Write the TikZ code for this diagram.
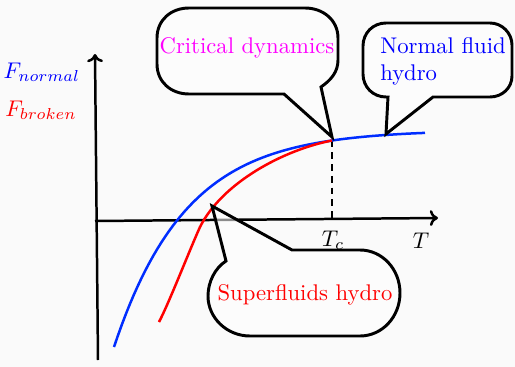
\documentclass[tikz,border=0pt]{standalone}
\usepackage{amsmath}
\usetikzlibrary{calc, positioning}
\usetikzlibrary{arrows.meta}

\definecolor{bgcol}{RGB}{250,250,250}
\definecolor{normcol}{RGB}{0,45,255}
\definecolor{critcol}{RGB}{255,0,255}

\begin{document}
\begin{tikzpicture}[x=0.0155cm, y=-0.0155cm,
  axis/.style={line width=1.1pt, -{To[length=3.6pt, width=7pt]}},
  curve/.style={line width=1.1pt},
  bubble/.style={draw, line width=1.3pt, fill=white, fill opacity=0.55}]
\def\Finf{130}
\def\Famp{217}
\def\Flen{72}

\fill[bgcol] (0,0) rectangle (515,367);
\useasboundingbox (0,0) rectangle (515,367);

\coordinate (Ybot) at (98,360);
\coordinate (Ytop) at (95,54);
\coordinate (Xbeg) at (95,221);
\coordinate (Xend) at (438,218);

\coordinate (Tc) at (332,{\Finf+\Famp*exp(-(332-114)/\Flen)});
\coordinate (TcAx) at (332,219);
\coordinate (critTip) at (332,137);
\coordinate (normTip) at (386,134);
\coordinate (supTip) at (212,206);

\draw[axis] (Ybot) -- (Ytop);
\draw[axis] (Xbeg) -- (Xend);

\draw[curve, dash pattern=on 3pt off 2.2pt] (Tc) -- (TcAx);

\draw[curve, normcol] plot[domain=114:425, samples=80] (\x, {\Finf+\Famp*exp(-(\x-114)/\Flen)});
\draw[curve, red] (159,322) .. controls (169,303) and (190,249) .. (200,227)
  .. controls (222,183) and (283,150) .. (Tc);

\node[blue] (fNormal) at (42,72) {$F_{normal}$};
\node[red] (fBroken) at (41,110) {$F_{broken}$};

\node (tcLabel) at (333,240) {$T_c$};
\node (tLabel) at (421,241) {$T$};

\draw[bubble] (284,94) -- (189,94) .. controls (171,94) and (157,82) .. (157,64)
  -- (157,38) .. controls (157,20) and (171,8) .. (189,8)
  -- (305,8) .. controls (323,8) and (338,20) .. (338,38)
  -- (338,60) .. controls (338,72) and (331,80) .. (321,87) -- (critTip) -- cycle;
\draw[bubble] (433,97) -- (490,97) .. controls (502,97) and (512,88) .. (512,76)
  -- (512,45) .. controls (512,33) and (502,23) .. (490,23)
  -- (386,23) .. controls (373,23) and (363,33) .. (363,46)
  -- (363,74) .. controls (363,87) and (373,97) .. (386,97) -- (388,97) -- (normTip) -- cycle;
\draw[bubble] (292,250) -- (360,250) .. controls (382,250) and (400,269) .. (400,293)
  .. controls (400,317) and (382,336) .. (360,336)
  -- (250,336) .. controls (227,336) and (208,318) .. (208,296)
  .. controls (208,282) and (215,268) .. (226,261) -- (supTip) -- cycle;

\node[critcol] (crit) at (247,48) {Critical dynamics};
\node[blue, align=left] (norm) at (443,61) {Normal fluid\\hydro};
\node[red] (sup) at (305,295) {Superfluids hydro};
\end{tikzpicture}
\end{document}
